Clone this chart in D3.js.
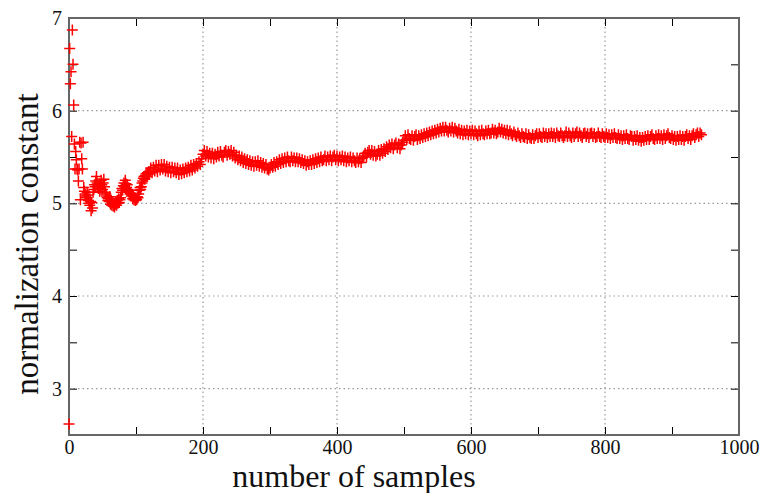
<!DOCTYPE html>
<meta charset="utf-8">
<style>

body {
  margin: 0;
  background-color: white;
}

</style>
<body>

<div id="chart1"></div>

<script src="https://cdn.jsdelivr.net/npm/d3@7"></script>
<script>

var serif = '"Liberation Serif", "DejaVu Serif", serif';

// early samples, one per sample number
var earlyN = [0,1,2,3,4,5,6,7,8,9,10,11,12,13,14,15,16,17,18,19,
              20,21,22,23,24,25,26,27,28,29,30,31,32,33,34,35,36,37,38,39,
              40,41,42,43,44,45,46,47,48,49,50,51,52,53,54,55,56,57,58,59,
              60,61,62,63,64,65,66,67,68,69,70,71,72,73,74,75,76,77,78,79,
              80,81,82,83,84,85,86,87,88,89,90,91,92,93,94,95,96,97,98,99,
              100,101,102,103,104,105,106,107,108,109,110,111,112,113,114,115,116,117,118,119];
var earlyV = [2.62,6.67,6.29,6.42,5.72,6.87,6.50,6.06,5.64,5.37,5.56,5.47,5.37,5.36,5.24,5.37,5.66,5.04,5.65,5.48,
              5.37,5.66,5.17,5.13,5.10,5.08,5.06,5.12,5.09,5.03,5.00,4.98,5.02,4.92,5.01,4.95,5.12,5.15,5.20,5.18,
              5.24,5.29,5.22,5.19,5.16,5.21,5.13,5.18,5.25,5.20,5.15,5.22,5.26,5.18,5.12,5.10,5.08,5.06,5.03,5.05,
              5.02,5.07,4.99,5.03,4.98,5.01,4.97,5.00,4.96,4.99,5.02,4.98,5.03,5.00,5.05,5.01,5.04,5.06,5.12,5.16,
              5.14,5.19,5.22,5.18,5.25,5.21,5.17,5.20,5.15,5.13,5.14,5.10,5.11,5.08,5.09,5.05,5.07,5.04,5.06,5.03,
              5.05,5.04,5.07,5.06,5.10,5.14,5.17,5.15,5.18,5.22,5.24,5.27,5.29,5.26,5.30,5.32,5.29,5.33,5.31,5.34];

// later samples, read every second sample number from 120 on
var lateStart = 120, lateStep = 2;
var lateV = [
  5.32,5.38,5.33,5.39,5.35,5.41,5.34,5.41,5.36,5.42,
  5.37,5.42,5.35,5.40,5.34,5.39,5.33,5.39,5.34,5.38,
  5.33,5.38,5.31,5.36,5.32,5.37,5.33,5.38,5.34,5.39,
  5.35,5.41,5.36,5.42,5.38,5.43,5.40,5.45,5.42,5.48,
  5.53,5.57,5.51,5.56,5.50,5.54,5.49,5.54,5.48,5.53,
  5.50,5.55,5.51,5.56,5.52,5.50,5.55,5.57,5.52,5.56,
  5.53,5.57,5.51,5.55,5.49,5.52,5.47,5.51,5.46,5.50,
  5.44,5.48,5.43,5.47,5.42,5.46,5.41,5.45,5.40,5.45,
  5.41,5.46,5.40,5.44,5.39,5.43,5.38,5.42,5.37,5.36,
  5.38,5.42,5.39,5.44,5.40,5.45,5.42,5.47,5.43,5.48,
  5.44,5.49,5.45,5.50,5.46,5.45,5.50,5.46,5.49,5.45,
  5.49,5.45,5.48,5.44,5.47,5.43,5.46,5.41,5.45,5.42,
  5.46,5.42,5.47,5.43,5.48,5.44,5.49,5.45,5.50,5.46,
  5.47,5.51,5.46,5.50,5.47,5.51,5.46,5.50,5.52,5.47,
  5.51,5.46,5.50,5.47,5.51,5.46,5.50,5.45,5.49,5.46,
  5.50,5.45,5.49,5.46,5.44,5.49,5.45,5.48,5.44,5.49,
  5.51,5.54,5.50,5.55,5.57,5.53,5.57,5.52,5.56,5.51,
  5.53,5.57,5.52,5.58,5.54,5.59,5.56,5.61,5.58,5.63,
  5.60,5.64,5.59,5.63,5.65,5.60,5.64,5.59,5.63,5.66,
  5.68,5.73,5.69,5.74,5.70,5.69,5.73,5.68,5.72,5.74,
  5.69,5.73,5.70,5.74,5.71,5.75,5.72,5.76,5.73,5.77,
  5.74,5.78,5.75,5.79,5.76,5.80,5.77,5.81,5.78,5.82,
  5.78,5.82,5.79,5.77,5.81,5.78,5.82,5.77,5.81,5.78,
  5.76,5.80,5.75,5.79,5.74,5.78,5.75,5.79,5.74,5.78,
  5.75,5.79,5.74,5.78,5.75,5.73,5.78,5.74,5.79,5.75,
  5.74,5.78,5.75,5.79,5.75,5.76,5.80,5.76,5.79,5.75,
  5.77,5.81,5.77,5.80,5.76,5.79,5.75,5.79,5.74,5.78,
  5.75,5.73,5.77,5.74,5.72,5.76,5.73,5.71,5.75,5.72,
  5.71,5.75,5.70,5.74,5.71,5.70,5.74,5.70,5.73,5.75,
  5.71,5.75,5.72,5.71,5.76,5.72,5.75,5.71,5.75,5.72,
  5.76,5.72,5.75,5.71,5.76,5.73,5.72,5.76,5.73,5.71,
  5.73,5.77,5.72,5.76,5.73,5.71,5.76,5.72,5.75,5.77,
  5.72,5.76,5.73,5.71,5.75,5.76,5.72,5.75,5.71,5.75,
  5.76,5.72,5.75,5.71,5.72,5.76,5.72,5.71,5.75,5.72,
  5.71,5.75,5.71,5.74,5.70,5.74,5.71,5.75,5.71,5.70,
  5.74,5.70,5.73,5.69,5.73,5.70,5.74,5.70,5.69,5.73,
  5.72,5.68,5.72,5.69,5.73,5.68,5.71,5.67,5.71,5.68,
  5.72,5.69,5.73,5.69,5.72,5.74,5.70,5.69,5.73,5.70,
  5.74,5.70,5.73,5.69,5.74,5.70,5.73,5.75,5.71,5.70,
  5.73,5.69,5.72,5.68,5.72,5.69,5.73,5.69,5.72,5.68,
  5.72,5.74,5.70,5.73,5.69,5.73,5.75,5.71,5.74,5.76,
  5.72,5.76,5.74
];

var xTicks = [0, 200, 400, 600, 800, 1000];
var xMinor = [100, 300, 500, 700, 900];
var yTicks = [3, 4, 5, 6, 7];
var yMinor = [2.5, 3.5, 4.5, 5.5, 6.5];

var width = 775, height = 493;
var margin = {top: 18, right: 36, bottom: 58, left: 69};
var plotW = width - margin.left - margin.right;
var plotH = height - margin.top - margin.bottom;

var x = d3.scaleLinear().domain([0, 1000]).range([0, plotW]);
var y = d3.scaleLinear().domain([2.5, 7]).range([plotH, 0]);

var points = [];
earlyN.forEach(function(n, i){ points.push({n: n, v: earlyV[i]}); });
lateV.forEach(function(v, i){ points.push({n: lateStart + i*lateStep, v: v}); });

drawChart();

function drawChart(){
  var svg = d3.select('#chart1').append('svg')
    .attr('width', width)
    .attr('height', height);

  var g = svg.append('g')
    .attr('transform', 'translate(' + margin.left + ',' + margin.top + ')');

  // dotted grid at the labelled ticks, not on the frame
  g.append('g').selectAll('line')
    .data(xTicks.slice(1, -1))
    .join('line')
    .attr('x1', function(d){ return x(d); })
    .attr('x2', function(d){ return x(d); })
    .attr('y1', 0).attr('y2', plotH)
    .attr('stroke', '#999').attr('stroke-width', 1.2)
    .attr('stroke-dasharray', '1.5,3');

  g.append('g').selectAll('line')
    .data(yTicks.slice(0, -1))
    .join('line')
    .attr('x1', 0).attr('x2', plotW)
    .attr('y1', function(d){ return y(d); })
    .attr('y2', function(d){ return y(d); })
    .attr('stroke', '#999').attr('stroke-width', 1.2)
    .attr('stroke-dasharray', '1.5,3');

  // axes with inward ticks, on all four sides
  var allX = xTicks.concat(xMinor);
  var allY = yTicks.concat(yMinor);
  var tk = 8;

  g.append('g').attr('transform', 'translate(0,' + plotH + ')')
    .call(d3.axisBottom(x).tickValues(allX).tickSizeInner(-tk).tickSizeOuter(0)
      .tickFormat(function(d){ return xTicks.indexOf(d) >= 0 ? d : ''; }))
    .call(styleAxis)
    .selectAll('text').attr('dy', null).attr('y', 19);

  g.append('g')
    .call(d3.axisTop(x).tickValues(allX).tickSizeInner(-tk).tickSizeOuter(0).tickFormat(''))
    .call(styleAxis);

  g.append('g')
    .call(d3.axisLeft(y).tickValues(allY).tickSizeInner(-tk).tickSizeOuter(0)
      .tickFormat(function(d){ return yTicks.indexOf(d) >= 0 ? d : ''; }))
    .call(styleAxis)
    .selectAll('text').attr('x', -7);

  g.append('g').attr('transform', 'translate(' + plotW + ',0)')
    .call(d3.axisRight(y).tickValues(allY).tickSizeInner(-tk).tickSizeOuter(0).tickFormat(''))
    .call(styleAxis);

  // frame
  g.append('rect')
    .attr('x', 0).attr('y', 0)
    .attr('width', plotW).attr('height', plotH)
    .attr('fill', 'none')
    .attr('stroke', '#666')
    .attr('stroke-width', 2);

  // samples as red plus markers
  g.append('g').selectAll('path')
    .data(points)
    .join('path')
    .attr('transform', function(d){ return 'translate(' + x(d.n) + ',' + y(d.v) + ')'; })
    .attr('d', 'M-5.5,0H5.5M0,-5.5V5.5')
    .attr('stroke', '#ff0000')
    .attr('stroke-width', 1.5)
    .attr('fill', 'none');

  svg.append('text')
    .attr('x', 354)
    .attr('y', 487)
    .attr('text-anchor', 'middle')
    .attr('font-family', serif)
    .attr('font-size', 32)
    .attr('fill', '#111')
    .text('number of samples');

  svg.append('text')
    .attr('transform', 'translate(38,244) rotate(-90)')
    .attr('text-anchor', 'middle')
    .attr('font-family', serif)
    .attr('font-size', 33)
    .attr('fill', '#111')
    .text('normalization constant');
}

function styleAxis(sel){
  sel.attr('font-family', serif).attr('font-size', 20);
  sel.select('.domain').remove();
  sel.selectAll('.tick line').attr('stroke', '#000').attr('stroke-width', 1);
  sel.selectAll('.tick text').attr('fill', '#111');
}

</script>
